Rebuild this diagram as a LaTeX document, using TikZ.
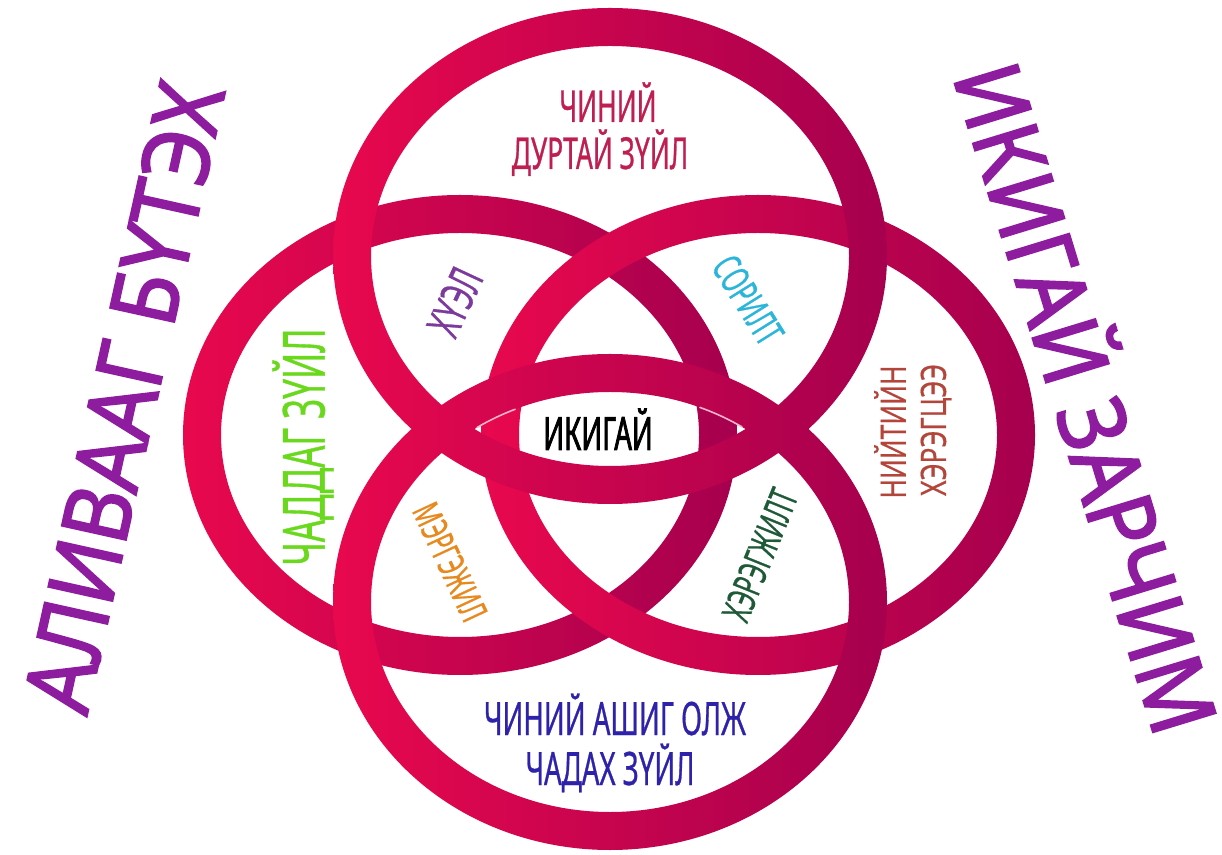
\documentclass[tikz,border=0pt]{standalone}
\usepackage{fontspec}
\setmainfont{Noto Sans}
\newfontfamily\cnd[FakeStretch=0.6,FakeBold=0.6]{Noto Sans}
\newfontfamily\cndb[FakeStretch=0.6,FakeBold=1.6]{Noto Sans}
\newfontfamily\cndw[FakeStretch=0.75,FakeBold=0.4]{Noto Sans}
\newfontfamily\ttl[FakeStretch=0.9,FakeBold=2]{Noto Sans}
\definecolor{ringA}{HTML}{E8084E}
\definecolor{ringB}{HTML}{A6004E}
\definecolor{topc}{HTML}{BE1E50}
\definecolor{botc}{HTML}{2E22AA}
\definecolor{grn}{HTML}{6AD91E}
\definecolor{orng}{HTML}{E8891E}
\definecolor{cyn}{HTML}{2BB5DA}
\definecolor{prp}{HTML}{7C3A9C}
\definecolor{brn}{HTML}{B4453A}
\definecolor{dgrn}{HTML}{1F5A38}
\definecolor{ttlc}{HTML}{8E1C9F}
\definecolor{hl}{HTML}{F6B4CC}
\tikzset{
  ringfill/.style={left color=ringA, right color=ringB, even odd rule},
  lbl/.style={inner sep=0pt, outer sep=0pt},
  hiline/.style={draw=hl, line width=1.6pt, line cap=round},
}
\begin{document}
\begin{tikzpicture}[x=1pt,y=1pt]
\useasboundingbox (0,0) rectangle (1222,854);
\fill[white] (0,0) rectangle (1222,854);
% rings
\shade[ringfill] (460,419) ellipse [x radius=277, y radius=240] (460,419) ellipse [x radius=239, y radius=202];
\shade[ringfill] (758,419) ellipse [x radius=277, y radius=240] (758,419) ellipse [x radius=239, y radius=202];
\shade[ringfill] (610,252) ellipse [x radius=277, y radius=248] (610,252) ellipse [x radius=239, y radius=210];
\shade[ringfill] (610,598) ellipse [x radius=277, y radius=248] (610,598) ellipse [x radius=239, y radius=210];
% highlight lines
\draw[hiline] (610,252) ++(123.8:239 and 210) arc[start angle=123.8, end angle=113.4, x radius=239, y radius=210];
\draw[hiline] (610,252) ++(67.9:239 and 210) arc[start angle=67.9, end angle=56.5, x radius=239, y radius=210];
% labels
\node[lbl, anchor=base, text=topc, font=\cnd\fontsize{44}{44}\selectfont] (love1) at (608,732) {ЧИНИЙ};
\node[lbl, anchor=base, text=topc, font=\cnd\fontsize{44}{44}\selectfont] (love2) at (600,685) {ДУРТАЙ ЗҮЙЛ};
\node[lbl, anchor=base, text=black, font=\cndb\fontsize{46}{46}\selectfont] (iki) at (598,404) {ИКИГАЙ};
\node[lbl, anchor=base, text=botc, font=\cnd\fontsize{46}{46}\selectfont] (paid1) at (615,119) {ЧИНИЙ АШИГ ОЛЖ};
\node[lbl, anchor=base, text=botc, font=\cnd\fontsize{46}{46}\selectfont] (paid2) at (610,69) {ЧАДАХ ЗҮЙЛ};
\node[lbl, rotate=90, text=grn, font=\cnd\fontsize{58}{58}\selectfont] (good) at (303,407) {ЧАДДАГ ЗҮЙЛ};
\node[lbl, rotate=65, text=prp, font=\cnd\fontsize{46}{46}\selectfont] (passion) at (455,552) {ХҮЭЛ};
\node[lbl, rotate=-58, text=cyn, font=\cnd\fontsize{40}{40}\selectfont] (mission) at (748,554) {СОРИЛТ};
\node[lbl, rotate=-65, text=orng, font=\cnd\fontsize{37}{37}\selectfont] (profession) at (450,292) {МЭРГЭЖИЛ};
\node[lbl, rotate=68, text=dgrn, font=\cnd\fontsize{39}{39}\selectfont] (vocation) at (760,299) {ХЭРЭГЖИЛТ};
\node[lbl, rotate=90, text=brn, font=\cndw\fontsize{35}{35}\selectfont] (need1) at (890,422) {НИЙТИЙН};
\node[lbl, rotate=90, text=brn, font=\cndw\fontsize{35}{35}\selectfont] (need2) at (936,424) {ХЭРЭГЦЭЭ};
\node[lbl, rotate=77.5, text=ttlc, font=\ttl\fontsize{92}{92}\selectfont] (make) at (124,457) {АЛИВААГ БҮТЭХ};
\node[lbl, rotate=-73, text=ttlc, font=\ttl\fontsize{92}{92}\selectfont] (principle) at (1093,458) {ИКИГАЙ ЗАРЧИМ};
\end{tikzpicture}
\end{document}
